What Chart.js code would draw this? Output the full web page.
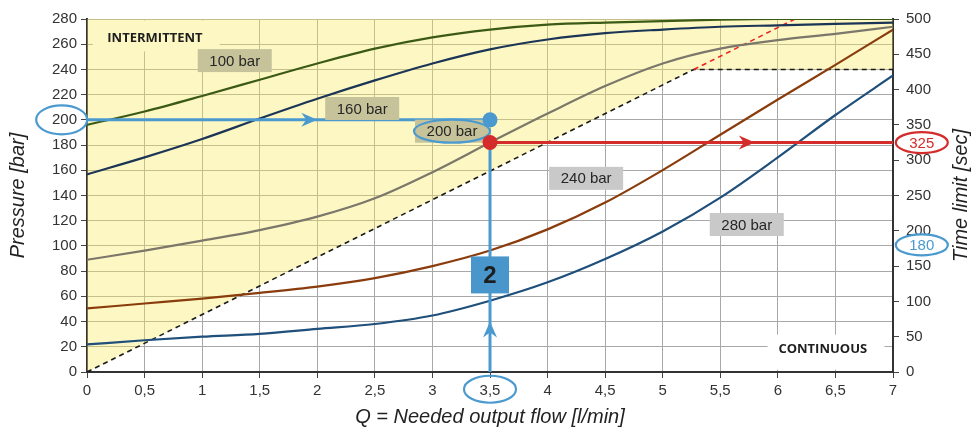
<!DOCTYPE html>
<html>
<head>
<meta charset="utf-8">
<script src="https://cdn.jsdelivr.net/npm/chart.js@4.4.1/dist/chart.umd.min.js"></script>
<style>
    html, body { margin: 0; padding: 0; background: #fff; }
</style>
</head>
<body>
<canvas id="timeChart" width="971" height="429"></canvas>
<script>
// flow in l/min, time limits in sec for each pressure curve
const flow = [0, 0.5, 1, 1.5, 2, 2.5, 3, 3.5, 4, 4.5, 5, 5.5, 6, 6.5, 7];
const time100 = [350, 369, 391, 414, 437, 458, 474, 485, 492, 495, 497, 499, 500, 500, 500];
const time160 = [280, 304, 330, 359, 387, 413, 437, 457, 471, 480, 485, 489, 491, 493, 495];
const time200 = [159, 172, 186, 201, 220, 246, 283, 325, 366, 405, 437, 458, 470, 479, 489];
const time240 = [90, 97, 104, 112, 121, 133, 150, 172, 202, 240, 286, 336, 386, 435, 485];
const time280 = [39, 45, 50, 54, 61, 68, 80, 101, 127, 160, 199, 247, 304, 364, 420];
const curveNames = ['100 bar', '160 bar', '200 bar', '240 bar', '280 bar'];

// intermittent / continuous limit (pressure axis)
const limitFlow = [0, 5.27, 7];
const limitPressure = [0, 240, 240];
const limitExtFlow = [5.27, 6.15];
const limitExtPressure = [240, 280];

// worked example
const readFlow = 3.5;
const readPressure = 200;
const readTime = 325;
const readTimeAlt = 180;

const toPoints = (xs, ys) => xs.map((v, i) => ({ x: v, y: ys[i] }));
const commaNum = v => String(v).replace('.', ',');

const BLUE = '#4a9ad0';
const RED = '#d42b2b';
const FONT = "'Liberation Sans', Arial, sans-serif";

function drawArrow(ctx, tx, ty, angle, color) {
    ctx.save();
    ctx.translate(tx, ty);
    ctx.rotate(angle);
    ctx.fillStyle = color;
    ctx.beginPath();
    ctx.moveTo(0, 0);
    ctx.lineTo(-16, -7);
    ctx.lineTo(-11, 0);
    ctx.lineTo(-16, 7);
    ctx.closePath();
    ctx.fill();
    ctx.restore();
}

function drawEllipse(ctx, cx, cy, rx, ry, color, fill) {
    ctx.beginPath();
    ctx.ellipse(cx, cy, rx, ry, 0, 0, Math.PI * 2);
    if (fill) {
        ctx.fillStyle = fill;
        ctx.fill();
    }
    ctx.lineWidth = 2.2;
    ctx.strokeStyle = color;
    ctx.stroke();
}

// label anchors in data units (flow, pressure)
const tagSpots = [[1.283, 247], [2.39, 209], [3.17, 191], [4.335, 153.6], [5.73, 117]];
const tagColors = ['#c6c39b', '#c6c39b', '#c6c39b', '#c9c9c9', '#c9c9c9'];

const overlay = {
    id: 'overlay',
    afterDraw(chart) {
        const ctx = chart.ctx;
        const sx = chart.scales.x, sy = chart.scales.y, st = chart.scales.y2;
        const area = chart.chartArea;
        ctx.save();

        // zone names
        ctx.fillStyle = '#fdf7c4';
        ctx.fillRect(sx.getPixelForValue(0.05), area.top + 1.5, 127, 31);
        ctx.fillStyle = '#fff';
        ctx.fillRect(sx.getPixelForValue(5.91), sy.getPixelForValue(29.6), 117, 35);
        ctx.fillStyle = '#1e1e1e';
        ctx.font = "bold 13px 'Open Sans', sans-serif";
        ctx.textAlign = 'center';
        ctx.textBaseline = 'middle';
        ctx.fillText('INTERMITTENT', sx.getPixelForValue(0.59), sy.getPixelForValue(265));
        ctx.fillText('CONTINUOUS', sx.getPixelForValue(6.39), sy.getPixelForValue(18));

        // curve tags
        ctx.font = '15px ' + FONT;
        curveNames.forEach((name, i) => {
            const cx = sx.getPixelForValue(tagSpots[i][0]);
            const cy = sy.getPixelForValue(tagSpots[i][1]);
            ctx.fillStyle = tagColors[i];
            ctx.fillRect(cx - 37, cy - 11.5, 74, 23);
            ctx.fillStyle = '#262626';
            ctx.fillText(name, cx, cy + 1);
        });
        drawEllipse(ctx, sx.getPixelForValue(3.17), sy.getPixelForValue(191), 38, 11.5, BLUE);

        // arrows and dots
        drawArrow(ctx, sx.getPixelForValue(2.0), sy.getPixelForValue(readPressure), 0, BLUE);
        drawArrow(ctx, sx.getPixelForValue(readFlow), sy.getPixelForValue(40), -Math.PI / 2, BLUE);
        drawArrow(ctx, sx.getPixelForValue(5.8), st.getPixelForValue(readTime), 0, RED);

        ctx.fillStyle = BLUE;
        ctx.beginPath();
        ctx.arc(sx.getPixelForValue(readFlow), sy.getPixelForValue(readPressure), 7.5, 0, Math.PI * 2);
        ctx.fill();
        ctx.fillStyle = RED;
        ctx.beginPath();
        ctx.arc(sx.getPixelForValue(readFlow), st.getPixelForValue(readTime), 7.5, 0, Math.PI * 2);
        ctx.fill();

        // step marker
        const bx = sx.getPixelForValue(readFlow), by = sy.getPixelForValue(77);
        ctx.fillStyle = '#4896cb';
        ctx.fillRect(bx - 19, by - 18.5, 38, 37);
        ctx.fillStyle = '#1e1e1e';
        ctx.font = 'bold 24px ' + FONT;
        ctx.fillText('2', bx, by + 1);

        // circled readings on axes
        drawEllipse(ctx, sx.getPixelForValue(-0.22), sy.getPixelForValue(readPressure), 25.5, 14.5, BLUE);
        drawEllipse(ctx, sx.getPixelForValue(readFlow), sy.getPixelForValue(-13.7), 26, 13.5, BLUE);
        ctx.font = '15px ' + FONT;
        drawEllipse(ctx, sx.getPixelForValue(7.25), st.getPixelForValue(readTime), 26, 10.5, RED, '#fff');
        ctx.fillStyle = RED;
        ctx.fillText(String(readTime), sx.getPixelForValue(7.25), st.getPixelForValue(readTime) + 1);
        drawEllipse(ctx, sx.getPixelForValue(7.25), st.getPixelForValue(readTimeAlt), 26, 10.5, BLUE, '#fff');
        ctx.fillStyle = BLUE;
        ctx.fillText(String(readTimeAlt), sx.getPixelForValue(7.25), st.getPixelForValue(readTimeAlt) + 1);

        // right axis title, reading upwards
        ctx.translate(961, (area.top + area.bottom) / 2);
        ctx.rotate(-Math.PI / 2);
        ctx.fillStyle = '#222';
        ctx.font = 'italic 20px ' + FONT;
        ctx.fillText('Time limit [sec]', 0, 0);
        ctx.restore();
    }
};

const curveColors = ['#3b5a16', '#1b3556', '#7b776a', '#8a3c0c', '#1f4f7b'];
const curveData = [time100, time160, time200, time240, time280];

const datasets = curveData.map((vals, i) => ({
    label: curveNames[i],
    data: toPoints(flow, vals),
    yAxisID: 'y2',
    borderColor: curveColors[i],
    borderWidth: 2.2,
    pointRadius: 0,
    cubicInterpolationMode: 'monotone',
    fill: false,
    order: 2
}));

datasets.push({
    label: 'limit',
    data: toPoints(limitFlow, limitPressure),
    yAxisID: 'y',
    borderColor: '#1a1a1a',
    borderWidth: 1.6,
    borderDash: [5, 4],
    pointRadius: 0,
    tension: 0,
    fill: 'end',
    backgroundColor: 'rgba(249, 232, 89, 0.36)',
    order: 9
});
datasets.push({
    label: 'limit ext',
    data: toPoints(limitExtFlow, limitExtPressure),
    yAxisID: 'y',
    borderColor: '#ee2222',
    borderWidth: 1.6,
    borderDash: [5, 4],
    pointRadius: 0,
    fill: false,
    order: 3
});
datasets.push({
    label: 'read pressure',
    data: [{ x: 0, y: readPressure }, { x: readFlow, y: readPressure }],
    yAxisID: 'y',
    borderColor: BLUE,
    borderWidth: 3,
    pointRadius: 0,
    fill: false,
    order: 1
});
datasets.push({
    label: 'read flow',
    data: [{ x: readFlow, y: 0 }, { x: readFlow, y: readTime }],
    yAxisID: 'y2',
    borderColor: BLUE,
    borderWidth: 3,
    pointRadius: 0,
    fill: false,
    order: 1
});
datasets.push({
    label: 'read time',
    data: [{ x: readFlow, y: readTime }, { x: 7, y: readTime }],
    yAxisID: 'y2',
    borderColor: RED,
    borderWidth: 3,
    pointRadius: 0,
    fill: false,
    order: 1
});

const tickFont = { family: FONT, size: 15 };
const gridCommon = { color: '#a8a8a8', lineWidth: 1, tickLength: 6, tickColor: '#444' };

new Chart(document.getElementById('timeChart').getContext('2d'), {
    type: 'line',
    data: { datasets: datasets },
    options: {
        responsive: false,
        animation: false,
        devicePixelRatio: 1,
        layout: { padding: { top: 19, left: 0, right: 0, bottom: 0 } },
        plugins: {
            legend: { display: false },
            tooltip: { enabled: false }
        },
        scales: {
            x: {
                type: 'linear',
                min: 0,
                max: 7,
                ticks: { stepSize: 0.5, color: '#333', font: tickFont, padding: 4, callback: v => commaNum(v), maxRotation: 0 },
                grid: gridCommon,
                border: { color: '#333', width: 2 },
                title: {
                    display: true,
                    text: 'Q = Needed output flow [l/min]',
                    color: '#222',
                    font: { family: FONT, size: 20, style: 'italic' },
                    padding: { top: 0, bottom: 0 }
                },
                afterFit: scale => { scale.height = 57; }
            },
            y: {
                position: 'left',
                min: 0,
                max: 280,
                ticks: { stepSize: 20, color: '#333', font: tickFont, padding: 4 },
                grid: gridCommon,
                border: { color: '#333', width: 2 },
                title: {
                    display: true,
                    text: 'Pressure [bar]',
                    color: '#222',
                    font: { family: FONT, size: 20, style: 'italic' },
                    padding: { top: 6, bottom: 0 }
                },
                afterFit: scale => { scale.width = 87; }
            },
            y2: {
                position: 'right',
                min: 0,
                max: 500,
                ticks: { stepSize: 50, color: '#333', font: tickFont, padding: 7 },
                grid: { drawOnChartArea: false, tickLength: 6, tickColor: '#444' },
                border: { color: '#333', width: 2 },
                afterFit: scale => { scale.width = 78; }
            }
        }
    },
    plugins: [overlay]
});
</script>
</body>
</html>
